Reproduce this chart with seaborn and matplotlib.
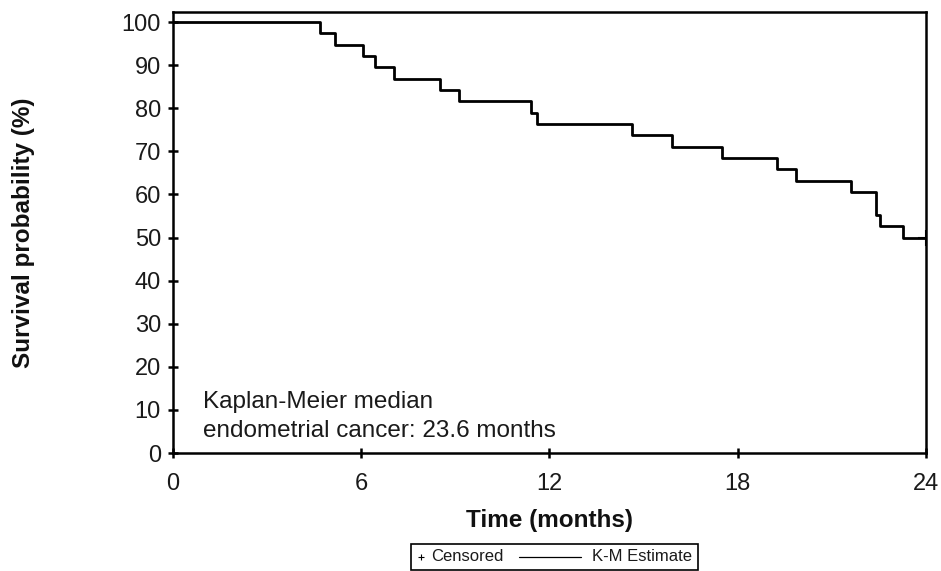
import matplotlib
matplotlib.use("Agg")
import matplotlib.pyplot as plt
from matplotlib.lines import Line2D
from matplotlib.offsetbox import AnchoredOffsetbox, HPacker, TextArea, DrawingArea
import seaborn as sns

# Kaplan-Meier step points (months, survival %)
times = [0, 4.69, 5.17, 6.07, 6.44, 7.05, 8.52, 9.12, 11.41, 11.62, 14.62,
         15.90, 17.49, 19.26, 19.86, 21.60, 22.40, 22.55, 23.28, 24]
surv = [100, 97.4, 94.7, 92.1, 89.5, 86.8, 84.2, 81.6, 78.9, 76.3, 73.7,
        71.1, 68.4, 65.8, 63.2, 60.5, 55.3, 52.6, 50.0, 50.0]

censor_times = [24]
censor_surv = [50.0]

x_ticks = [0, 6, 12, 18, 24]
y_ticks = list(range(0, 101, 10))

sns.set_theme(style="ticks")
plt.rcParams['font.family'] = ['Liberation Sans', 'DejaVu Sans']

fig, ax = plt.subplots(figsize=(9.41, 5.71), dpi=100)
fig.subplots_adjust(left=172.7 / 941, right=926 / 941, top=1 - 11.7 / 571, bottom=1 - 453 / 571)

sns.lineplot(x=times, y=surv, drawstyle='steps-post', estimator=None, sort=False,
             color='black', linewidth=2, ax=ax)
sns.scatterplot(x=censor_times, y=censor_surv, marker='+', s=120, color='black',
                linewidth=1.5, ax=ax, zorder=5)

ax.set_xlim(0, 24)
ax.set_ylim(0, 102.4)
ax.set_xticks(x_ticks)
ax.set_yticks(y_ticks)
ax.tick_params(axis='both', labelsize=17, length=7, width=1.8, color='black',
               labelcolor='#1a1a1a', direction='inout')
ax.tick_params(axis='x', pad=11)
ax.tick_params(axis='y', pad=5)
for s in ax.spines.values():
    s.set_linewidth(1.8)
    s.set_color('black')

ax.set_xlabel("Time (months)", fontsize=17.5, fontweight='bold', labelpad=10, color='#111111')
ax.set_ylabel("Survival probability (%)", fontsize=17.5, fontweight='bold', labelpad=62, color='#111111')

ax.text(0.956, 2.5, "Kaplan-Meier median\nendometrial cancer: 23.6 months",
        fontsize=17.5, color='#1a1a1a', ha='left', va='bottom', linespacing=1.45)

# legend box: "+ Censored  ——— K-M Estimate"
leg_font = dict(fontsize=12, color='#1a1a1a')
cens_da = DrawingArea(11, 10, 0, 0)
cens_da.add_artist(Line2D([3.6], [5], marker='+', color='black', markersize=4.5, markeredgewidth=0.8))
line_da = DrawingArea(64, 10, 0, 0)
line_da.add_artist(Line2D([11.2, 56], [5, 5], color='black', linewidth=0.9))
box = HPacker(children=[cens_da, TextArea("Censored", textprops=leg_font), line_da,
                        TextArea("K-M Estimate", textprops=leg_font)],
              align='center', pad=3.8, sep=0)
anchored = AnchoredOffsetbox(loc='lower center', child=box, pad=0, borderpad=0, frameon=True,
                             bbox_to_anchor=(554.2 / 941, 1.5 / 571), bbox_transform=fig.transFigure)
anchored.patch.set_boxstyle('square', pad=0)
anchored.patch.set_edgecolor('black')
anchored.patch.set_linewidth(1.2)
fig.add_artist(anchored)

fig.savefig("out.png", dpi=100)
